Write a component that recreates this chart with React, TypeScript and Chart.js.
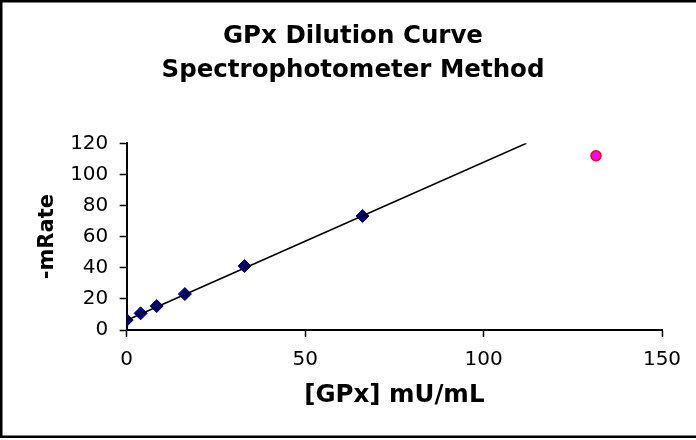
import { useEffect, useRef } from 'react';
import { Chart, registerables } from 'chart.js';

Chart.register(...registerables);

const titleLines = ['GPx Dilution Curve', 'Spectrophotometer Method'];
const xAxisTitle = '[GPx] mU/mL';
const yAxisTitle = '-mRate';

const gpxConc = [0, 3.9, 8.4, 16.3, 33.0, 66.1];
const mRate = [6.4, 10.7, 15.4, 23.1, 41.1, 73.3];

const outlierConc = [131.5];
const outlierRate = [112];

const trendConc = [0, 112];
const trendRate = [6.2, 120];

const xMin = 0;
const xMax = 150;
const xStep = 50;
const yMin = 0;
const yMax = 120;
const yStep = 20;

const FONT = "'DejaVu Sans', Verdana, sans-serif";

const framePlugin = {
  id: 'frameAndTitle',
  afterDraw(chart: any) {
    const ctx = chart.ctx;
    ctx.save();
    ctx.strokeStyle = '#000';
    ctx.lineWidth = 2.5;
    ctx.beginPath();
    ctx.moveTo(700, 1.25);
    ctx.lineTo(1.25, 1.25);
    ctx.lineTo(1.25, 436.75);
    ctx.lineTo(700, 436.75);
    ctx.stroke();

    ctx.fillStyle = '#000';
    ctx.font = `bold 24.5px ${FONT}`;
    ctx.textAlign = 'center';
    ctx.textBaseline = 'middle';
    titleLines.forEach((line, i) => {
      ctx.fillText(line, 353, 37 + i * 33.3);
    });
    ctx.restore();
  },
};

export default function App() {
  const ref = useRef<HTMLCanvasElement | null>(null);

  useEffect(() => {
    document.body.style.margin = '0';
    const canvas = ref.current;
    if (!canvas) return;
    const chart = new Chart(canvas, {
      type: 'scatter',
      data: {
        datasets: [
          {
            label: 'Trend',
            data: trendConc.map((x, i) => ({ x, y: trendRate[i] })),
            showLine: true,
            borderColor: '#000',
            borderWidth: 1.6,
            pointRadius: 0,
            pointHoverRadius: 0,
            fill: false,
          },
          {
            label: 'Dilution',
            data: gpxConc.map((x, i) => ({ x, y: mRate[i] })),
            pointStyle: 'rectRot',
            pointRadius: 6.5,
            pointBackgroundColor: '#000080',
            pointBorderColor: '#000080',
            pointBorderWidth: 1,
            showLine: false,
          },
          {
            label: 'Outlier',
            data: outlierConc.map((x, i) => ({ x, y: outlierRate[i] })),
            pointStyle: 'circle',
            pointRadius: 5,
            pointBackgroundColor: '#FF00FF',
            pointBorderColor: '#FF0000',
            pointBorderWidth: 1.5,
            showLine: false,
          },
        ],
      },
      options: {
        responsive: false,
        animation: false,
        layout: { padding: { top: 143.3, left: 0, right: 34, bottom: 0 } },
        plugins: {
          legend: { display: false },
          tooltip: { enabled: false },
          title: { display: false },
        },
        scales: {
          x: {
            type: 'linear',
            min: xMin,
            max: xMax,
            ticks: {
              stepSize: xStep,
              color: '#000',
              font: { family: FONT, size: 20 },
              padding: 10.5,
            },
            grid: {
              display: true,
              drawOnChartArea: false,
              drawTicks: true,
              tickLength: 7,
              tickColor: '#000',
              tickWidth: 1.5,
            },
            border: { display: true, color: '#000', width: 2 },
            title: {
              display: true,
              text: xAxisTitle,
              color: '#000',
              font: { family: FONT, size: 24.5, weight: 'bold', lineHeight: 1 },
              padding: { top: 0, bottom: 32 },
            },
            afterFit(scale: any) {
              scale.height = 110;
            },
          },
          y: {
            type: 'linear',
            min: yMin,
            max: yMax,
            ticks: {
              stepSize: yStep,
              color: '#000',
              font: { family: FONT, size: 20 },
              padding: 11.4,
            },
            grid: {
              display: true,
              drawOnChartArea: false,
              drawTicks: true,
              tickLength: 7,
              tickColor: '#000',
              tickWidth: 1.5,
            },
            border: { display: true, color: '#000', width: 2 },
            title: {
              display: true,
              text: yAxisTitle,
              color: '#000',
              font: { family: FONT, size: 21, weight: 'bold', lineHeight: 1 },
              padding: { top: 37.5, bottom: 0 },
            },
            afterFit(scale: any) {
              scale.width = 126.7;
            },
          },
        },
      },
      plugins: [framePlugin],
    });
    return () => chart.destroy();
  }, []);

  return (
    <div style={{ width: 696, height: 440, background: '#fff' }}>
      <canvas ref={ref} width={696} height={440} style={{ display: 'block' }} />
    </div>
  );
}
